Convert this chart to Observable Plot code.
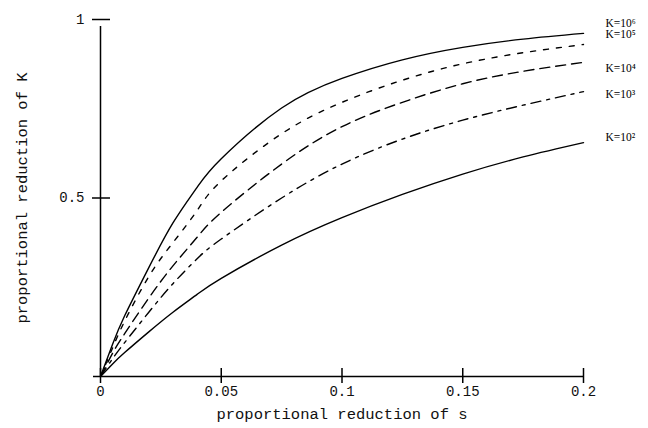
<!DOCTYPE html>
<html>
<head>
<meta charset="utf-8">
<script src="https://cdn.jsdelivr.net/npm/d3@7"></script>
<script src="https://cdn.jsdelivr.net/npm/@observablehq/plot@0.6"></script>
<style>
  html, body { margin: 0; padding: 0; background: #fff; }
  #chart svg { display: block; }
  #chart svg text { font-family: "Liberation Mono", monospace; }
  #chart svg .klabel text, #chart svg text.klabel { font-family: "Liberation Serif", serif; }
</style>
</head>
<body>
<div id="chart"></div>
<script>
// proportional reduction of s (x positions where values were read)
const sValues = [0, 0.005, 0.01, 0.02, 0.03, 0.04, 0.05, 0.075, 0.1, 0.125, 0.15, 0.175, 0.2];

// proportional reduction of K, one array per K
const kE6 = [0, 0.09, 0.17, 0.305, 0.43, 0.53, 0.61, 0.752, 0.835, 0.887, 0.922, 0.945, 0.961];
const kE5 = [0, 0.08, 0.155, 0.28, 0.375, 0.465, 0.548, 0.68, 0.768, 0.83, 0.876, 0.907, 0.93];
const kE4 = [0, 0.065, 0.12, 0.22, 0.31, 0.39, 0.46, 0.595, 0.70, 0.768, 0.82, 0.855, 0.88];
const kE3 = [0, 0.05, 0.095, 0.18, 0.26, 0.33, 0.385, 0.50, 0.595, 0.665, 0.718, 0.76, 0.798];
const kE2 = [0, 0.035, 0.067, 0.125, 0.18, 0.23, 0.275, 0.368, 0.445, 0.51, 0.567, 0.615, 0.655];

const seriesNames = ["K=10⁶", "K=10⁵", "K=10⁴", "K=10³", "K=10²"];
const seriesValues = [kE6, kE5, kE4, kE3, kE2];
const seriesDash = ["none", "5,8", "10,6", "10,6,3,6", "none"];
// label vertical positions (data units) at the right end
const labelY = [0.989, 0.958, 0.863, 0.790, 0.669];

const xTicks = [0, 0.05, 0.1, 0.15, 0.2];
const yTicks = [0.5, 1];

const rows = [];
seriesNames.forEach((name, i) => {
  sValues.forEach((s, j) => rows.push({series: name, s, v: seriesValues[i][j]}));
});
const labels = seriesNames.map((name, i) => ({name, y: labelY[i]}));

const lineMarks = seriesNames.map((name, i) =>
  Plot.line(rows.filter(d => d.series === name), {
    x: "s", y: "v", curve: "natural",
    stroke: "#000", strokeWidth: 1.4,
    strokeDasharray: seriesDash[i] === "none" ? undefined : seriesDash[i]
  })
);

const mono = "'Liberation Mono', monospace";

const chart = Plot.plot({
  width: 648,
  height: 428,
  marginLeft: 100,
  marginRight: 65,
  marginTop: 19,
  marginBottom: 52,
  style: {fontFamily: mono, fontSize: "14px", color: "#111", background: "#fff"},
  x: {domain: [0, 0.2]},
  y: {domain: [0, 1]},
  marks: [
    Plot.axisX(xTicks, {tickSize: 0, tickPadding: 10, tickFormat: d3.format(""), fontSize: 14, fontFamily: mono,
      label: null}),
    Plot.axisY(yTicks, {tickSize: 0, tickPadding: 16, tickFormat: d3.format(""), fontSize: 14, fontFamily: mono,
      label: null}),
    Plot.text(["proportional reduction of s"], {frameAnchor: "bottom", dy: 42, text: d => d,
      fontSize: 15.5, fontFamily: mono, fill: "#111"}),
    Plot.text(["proportional reduction of K"], {frameAnchor: "left", dx: -78, rotate: -90, textAnchor: "middle",
      text: d => d, fontSize: 15.5, fontFamily: mono, fill: "#111"}),
    // axis lines
    Plot.ruleY([0], {x1: 0, x2: 0.2, insetLeft: -7, stroke: "#000", strokeWidth: 1.5}),
    Plot.ruleX([0], {y1: 0, y2: 1, insetBottom: -7, stroke: "#000", strokeWidth: 1.5}),
    // crossing tick marks
    Plot.ruleX(xTicks, {x: d => d, y1: 0, y2: 0, insetTop: -8, insetBottom: -7, stroke: "#000", strokeWidth: 1.5}),
    Plot.ruleY(yTicks, {y: d => d, x1: 0, x2: 0, insetLeft: -8, insetRight: -10, stroke: "#000", strokeWidth: 1.5}),
    ...lineMarks,
    Plot.text(labels, {x: () => 0.2, y: "y", text: "name", dx: 22, textAnchor: "start", className: "klabel",
      fontFamily: "'Liberation Serif', serif", fontSize: 11.5, fill: "#000"})
  ]
});
document.getElementById("chart").appendChild(chart);
</script>
</body>
</html>
